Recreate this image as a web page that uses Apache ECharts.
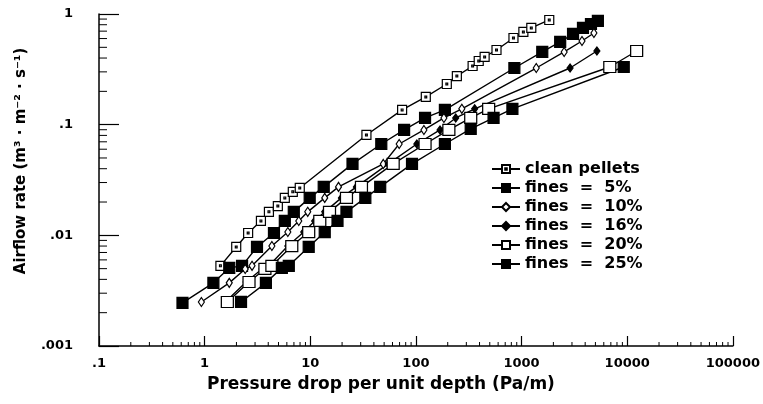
<!DOCTYPE html>
<html><head><meta charset="utf-8">
<script src="https://cdn.jsdelivr.net/npm/echarts@6/dist/echarts.min.js"></script>
<style>html,body{margin:0;padding:0;background:#fff}#c{width:763px;height:404px}</style>
</head><body><div id="c"></div>
<script>
// ---- data ----
const xTickLabels = ['.1','1','10','100','1000','10000','100000'];
const yTickLabels = ['.001','.01','.1','1'];
const seriesNames = ['clean pellets','fines  =  5%','fines  =  10%','fines  =  16%','fines  =  20%','fines  =  25%'];

const cleanX = [1.41,1.99,2.58,3.41,4.06,4.93,5.74,6.83,7.95,34.0,74.0,124,196,244,344,393,447,579,838,1040,1236,1828];
const cleanY = [0.0053,0.00785,0.0105,0.0135,0.0163,0.0184,0.0218,0.0247,0.0268,0.0807,0.136,0.178,0.233,0.275,0.339,0.376,0.409,0.473,0.607,0.688,0.748,0.883];

const f5X = [0.617,1.21,1.71,2.26,3.13,4.53,5.74,6.98,9.87,13.4,25.1,47.0,77.3,122,188,855,1570,2320,3070,3812,4538,5276];
const f5Y = [0.00245,0.00372,0.00508,0.0053,0.00785,0.0105,0.0135,0.0163,0.0218,0.0274,0.0442,0.0669,0.0896,0.115,0.136,0.325,0.454,0.559,0.660,0.748,0.812,0.865];

const f10X = [0.931,1.71,2.42,2.81,4.33,6.13,7.78,9.46,13.7,18.5,49.1,69.4,119,184,272,1377,2529,3732,4840];
const f10Y = [0.0025,0.00372,0.00497,0.0053,0.0080,0.0107,0.0135,0.0163,0.0218,0.0274,0.0442,0.0669,0.0896,0.115,0.139,0.325,0.454,0.570,0.674];

const f16X = [1.57,2.47,3.49,4.06,6.13,8.67,11.0,13.7,19.7,27.3,54.7,102,169,238,360,2878,5164];
const f16Y = [0.0025,0.00379,0.00497,0.0053,0.0080,0.0107,0.0135,0.0163,0.0218,0.0274,0.0442,0.0669,0.0896,0.115,0.139,0.325,0.463];

const f20X = [1.64,2.63,3.72,4.33,6.68,9.66,12.3,15.2,22.0,30.5,60.9,122,205,330,488,6840,12280];
const f20Y = [0.0025,0.00379,0.00497,0.0053,0.0080,0.0107,0.0135,0.0163,0.0218,0.0274,0.0442,0.0669,0.0896,0.115,0.139,0.332,0.463];

const f25X = [2.21,3.80,5.38,6.26,9.66,13.7,18.1,22.0,33.2,45.9,91.8,188,330,543,819,9270];
const f25Y = [0.0025,0.00372,0.00508,0.0053,0.00785,0.0107,0.0135,0.0163,0.0218,0.0274,0.0442,0.0669,0.0915,0.115,0.139,0.332];

// ---- axis minor tick positions (2..9 per decade) ----
const minorMult = [2,3,4,5,6,7,8,9];
const xDecades = [0.1,1,10,100,1000,10000];
const yDecades = [0.001,0.01,0.1];
const xMinor = []; xDecades.forEach(d => minorMult.forEach(m => xMinor.push([+(d*m).toPrecision(3), 0.001])));
const yMinor = []; yDecades.forEach(d => minorMult.forEach(m => yMinor.push([0.1, +(d*m).toPrecision(3)])));

const zip = (xs, ys) => xs.map((x, i) => [x, ys[i]]);
const FONT = 'DejaVu Sans';
const sqPath = 'path://M0,0H10V10H0Z M4,4H6V6H4Z';

function lineSeries(name, xs, ys, symbol, size, fill) {
  return {
    type: 'line', name, data: zip(xs, ys), symbol, symbolSize: size,
    showAllSymbol: true, animation: false,
    lineStyle: { color: '#000', width: 1.4 },
    itemStyle: { color: fill, borderColor: '#000', borderWidth: 1.2 },
    emphasis: { disabled: true }
  };
}

const chart = echarts.init(document.getElementById('c'), null, { renderer: 'canvas' });
chart.setOption({
  animation: false,
  backgroundColor: '#fff',
  grid: { left: 99, right: 26, top: 14, bottom: 58 },
  legend: {
    data: seriesNames, orient: 'vertical', left: 486, top: 156,
    itemWidth: 28, itemHeight: 10, itemGap: 3,
    textStyle: { fontFamily: FONT, fontWeight: 'bold', fontSize: 16, color: '#000', lineHeight: 16 },
    selectedMode: false
  },
  xAxis: {
    type: 'log', logBase: 10, min: 0.1, max: 100000, splitNumber: 6,
    name: 'Pressure drop per unit depth (Pa/m)', nameLocation: 'middle', nameGap: 30,
    nameTextStyle: { fontFamily: FONT, fontWeight: 'bold', fontSize: 17, color: '#000', padding: [0, 70, 0, 0] },
    axisLine: { lineStyle: { color: '#000', width: 1.5 } },
    axisTick: { inside: true, length: 10, lineStyle: { color: '#000', width: 1.2 } },
    axisLabel: { color: '#000', fontFamily: FONT, fontWeight: 'bold', fontSize: 13, margin: 11,
      formatter: v => xTickLabels[Math.round(Math.log10(v)) + 1] },
    splitLine: { show: false }
  },
  yAxis: {
    type: 'log', logBase: 10, min: 0.001, max: 1, splitNumber: 3,
    name: 'Airflow rate (m³ · m⁻² · s⁻¹)', nameLocation: 'middle', nameGap: 70,
    nameTextStyle: { fontFamily: FONT, fontWeight: 'bold', fontSize: 15, color: '#000', padding: [0, 0, 0, 38] },
    axisLine: { lineStyle: { color: '#000', width: 1.5 } },
    axisTick: { inside: true, length: 20, lineStyle: { color: '#000', width: 1.2 } },
    axisLabel: { color: '#000', fontFamily: FONT, fontWeight: 'bold', fontSize: 13, margin: 26,
      formatter: v => yTickLabels[Math.round(Math.log10(v)) + 3] },
    splitLine: { show: false }
  },
  series: [
    lineSeries(seriesNames[0], cleanX, cleanY, sqPath, 9, '#fff'),
    lineSeries(seriesNames[1], f5X, f5Y, 'rect', 11, '#000'),
    lineSeries(seriesNames[2], f10X, f10Y, 'diamond', [6, 9], '#fff'),
    lineSeries(seriesNames[3], f16X, f16Y, 'diamond', [6, 8], '#000'),
    lineSeries(seriesNames[4], f20X, f20Y, 'rect', [12, 11], '#fff'),
    lineSeries(seriesNames[5], f25X, f25Y, 'rect', 11, '#000'),
    {
      type: 'custom', name: 'xminor', data: xMinor, clip: false, silent: true, z: 5,
      renderItem: (p, api) => {
        const c = api.coord([api.value(0), api.value(1)]);
        return { type: 'line', shape: { x1: c[0], y1: c[1], x2: c[0], y2: c[1] - 4 }, style: { stroke: '#000', lineWidth: 1 } };
      }
    },
    {
      type: 'custom', name: 'yminor', data: yMinor, clip: false, silent: true, z: 5,
      renderItem: (p, api) => {
        const c = api.coord([api.value(0), api.value(1)]);
        return { type: 'line', shape: { x1: c[0], y1: c[1], x2: c[0] + 8, y2: c[1] }, style: { stroke: '#000', lineWidth: 1 } };
      }
    }
  ]
});
</script></body></html>
